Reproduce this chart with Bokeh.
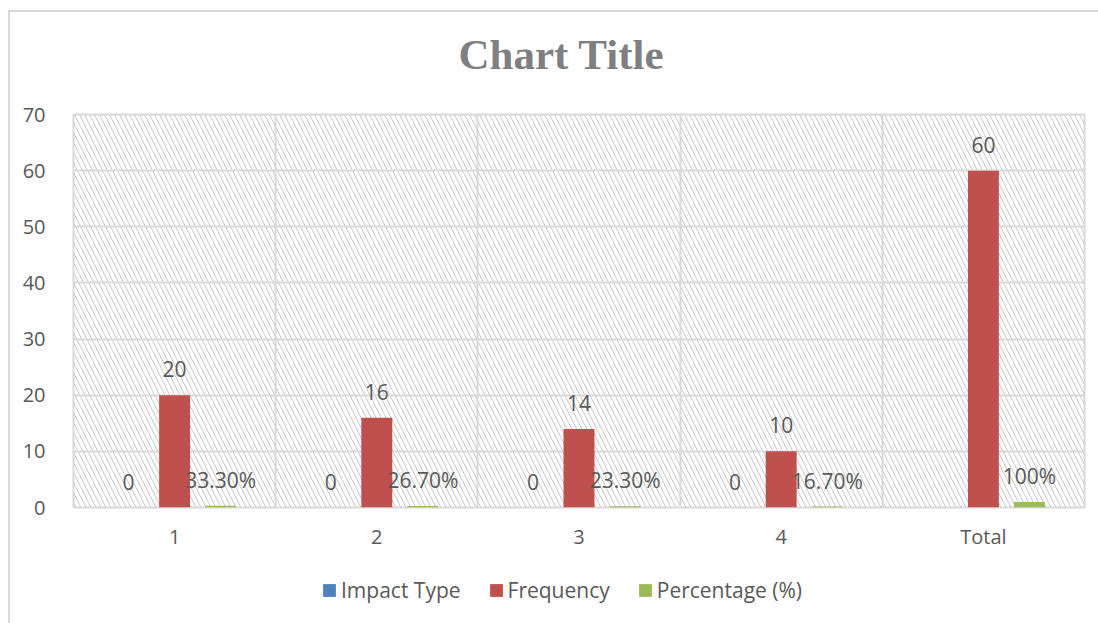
from bokeh.plotting import figure
from bokeh.layouts import column
from bokeh.models import (ColumnDataSource, FactorRange, Range1d, FixedTicker, Title,
                          BoxAnnotation, Legend, LegendItem, LabelSet, SingleIntervalTicker)
from bokeh.transform import dodge
from bokeh.embed import file_html
from bokeh.resources import INLINE
from bokeh.core.properties import value

# ---- data ----
categories = ["1", "2", "3", "4", "Total"]
impact_type = [0, 0, 0, 0, float("nan")]
frequency = [20, 16, 14, 10, 60]
percentage = [0.333, 0.267, 0.233, 0.167, 1.0]
impact_labels = ["0", "0", "0", "0", ""]
frequency_labels = ["20", "16", "14", "10", "60"]
percentage_labels = ["33.30%", "26.70%", "23.30%", "16.70%", "100%"]
series_names = ["Impact Type", "Frequency", "Percentage (%)"]
series_colors = ["#4f81bd", "#c0504d", "#9bbb59"]

src = ColumnDataSource(dict(cat=categories, imp=impact_type, freq=frequency, pct=percentage,
                            imp_l=impact_labels, freq_l=frequency_labels, pct_l=percentage_labels))

FONT = "Open Sans"
TXT = "#595959"
GRID = "#d9d9d9"

p = figure(frame_width=1011, frame_height=393, x_range=FactorRange(*categories), y_range=Range1d(0, 70),
           output_backend="svg", toolbar_location=None, title=None,
           min_border_left=63, min_border_right=14, min_border_top=102, min_border_bottom=50)

# spacer (closest to frame) then the chart title
p.add_layout(Title(text=" ", text_font_size="2px", standoff=28), "above")
p.add_layout(Title(text="Chart Title", text_font="Liberation Serif", text_font_size="43px",
                   text_font_style="bold", text_color="#7f7f7f", align="left", offset=385,
                   standoff=10), "above")

# hatched background
hatch = BoxAnnotation(fill_alpha=0, line_alpha=0, hatch_pattern="\\", hatch_scale=10,
                      hatch_weight=1, hatch_color="#c8c8c8", level="image")
p.add_layout(hatch)

offs = [-0.228, 0.0, 0.228]
cols = ["imp", "freq", "pct"]
lcols = ["imp_l", "freq_l", "pct_l"]
for off, c, lc, col in zip(offs, cols, lcols, series_colors):
    p.vbar(x=dodge("cat", off, range=p.x_range), top=c, width=0.153, source=src,
           fill_color=col, line_color=None)
    lab = LabelSet(x=dodge("cat", off, range=p.x_range), y=c, text=lc, source=src,
                   text_align="center", text_baseline="middle", y_offset=26,
                   text_font=value(FONT), text_font_size="21px", text_color=TXT)
    p.add_layout(lab)

# axes
p.yaxis.ticker = SingleIntervalTicker(interval=10)
for ax in (p.xaxis, p.yaxis):
    ax.axis_line_color = None
    ax.major_tick_line_color = None
    ax.minor_tick_line_color = None
    ax.major_label_text_font = FONT
    ax.major_label_text_font_size = "20px"
    ax.major_label_text_color = TXT
p.yaxis.major_label_standoff = 22
p.xaxis.major_label_standoff = 9

p.ygrid.grid_line_color = GRID
p.ygrid.grid_line_width = 2
p.xgrid.ticker = FixedTicker(ticks=[1, 2, 3, 4])
p.xgrid.grid_line_color = GRID
p.xgrid.grid_line_width = 2
p.outline_line_color = GRID
p.outline_line_width = 2

# legend strip below the chart (its bars lie outside its visible y range)
pl = figure(width=1088, height=66, x_range=FactorRange(*categories), y_range=Range1d(1000, 1001),
            output_backend="svg", toolbar_location=None, title=None,
            x_axis_type=None, y_axis_type=None,
            min_border_left=0, min_border_right=0, min_border_top=0, min_border_bottom=0)
pl.outline_line_color = None
lrends = []
for off, c, col in zip(offs, cols, series_colors):
    lrends.append(pl.vbar(x=dodge("cat", off, range=pl.x_range), top=c, width=0.153, source=src,
                          fill_color=col, line_color=None))
legend = Legend(items=[LegendItem(label=n, renderers=[r]) for n, r in zip(series_names, lrends)],
                orientation="horizontal", location=(248, 19),
                label_text_font=FONT, label_text_font_size="21px", label_text_color=TXT,
                label_height=20, glyph_width=16, glyph_height=16, label_standoff=4, spacing=27,
                border_line_color=None, background_fill_alpha=0, margin=0, padding=0)
pl.add_layout(legend)

layout = column(p, pl, spacing=0)
layout.margin = (10, 0, 0, 8)
layout.styles = {"border-left": "2px solid #d9d9d9", "border-top": "2px solid #d9d9d9"}

open("out.html", "w").write(file_html(layout, INLINE))
